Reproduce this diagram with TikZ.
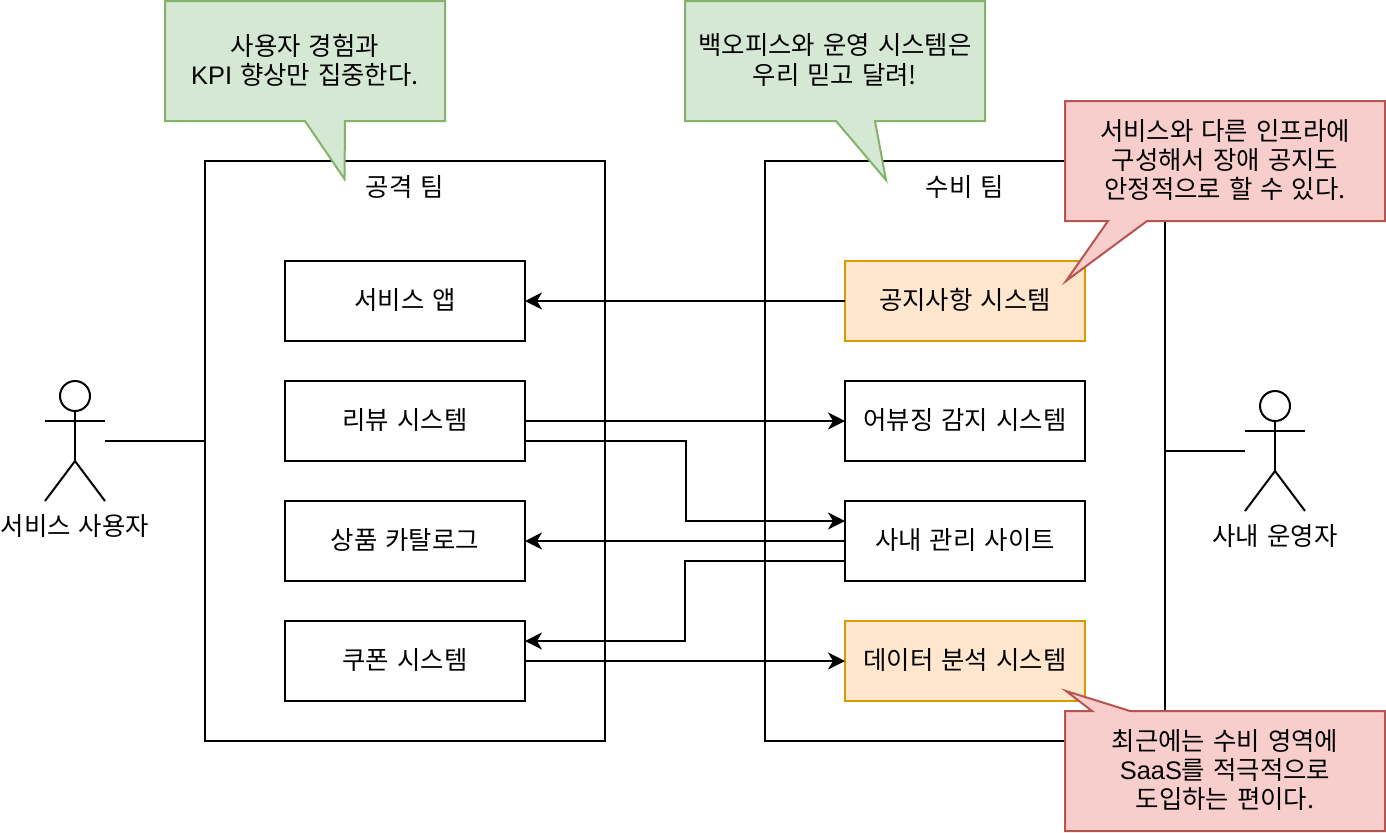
\documentclass[tikz,border=0pt]{standalone}
\usepackage{fontspec}
\setmainfont[WordSpace=1.4]{Noto Sans CJK KR}
\newfontfamily\latinfont{Liberation Sans}
\usepackage{xcolor}
\usepackage{tikz}
\usetikzlibrary{arrows.meta, positioning}

\definecolor{greenfill}{HTML}{D5E8D4}
\definecolor{greenline}{HTML}{82B366}
\definecolor{redfill}{HTML}{F8CECC}
\definecolor{redline}{HTML}{B85450}
\definecolor{orangefill}{HTML}{FFE6CC}
\definecolor{orangeline}{HTML}{D79B00}

\begin{document}
\begin{tikzpicture}[
	x=0.5pt, y=-0.5pt,
	line width=1pt,
	every node/.style={font=\fontsize{12.7}{14.6}\selectfont, align=center},
	team/.style={rectangle, draw, outer sep=0pt, minimum width=200pt, minimum height=290pt},
	block/.style={rectangle, draw, fill=white, outer sep=0pt, text height=10pt, text depth=2pt, minimum width=120pt, minimum height=40pt},
	hot/.style={block, draw=orangeline, fill=orangefill},
	actor/.style={rectangle, outer sep=0pt, inner sep=0pt, minimum width=30pt, minimum height=60pt},
	greennote/.style={draw=greenline, fill=greenfill},
	rednote/.style={draw=redline, fill=redfill},
	line/.style={-{Stealth[length=8.5pt, width=8.5pt, inset=2.5pt]}},
	stickman/.pic={
		\draw (0,-45) circle (15);
		\draw (0,-30) -- (0,20);
		\draw (-30,-20) -- (30,-20);
		\draw (-30,60) -- (0,20) -- (30,60);
	}
	]
	
	\useasboundingbox (0,0) rectangle (1386,832);
	
	% teams
	\node[team] (attack) at (405,451) {};
	\node[team] (defense) at (965,451) {};
	\node (attacklabel) at ([yshift=-13pt]attack.north) {공격 팀};
	\node (defenselabel) at ([yshift=-13pt]defense.north) {수비 팀};
	
	% systems
	\node[block] (app) at (405,301) {서비스 앱};
	\node[block, below=20pt of app] (review) {리뷰 시스템};
	\node[block, below=20pt of review] (catalog) {상품 카탈로그};
	\node[block, below=20pt of catalog] (coupon) {쿠폰 시스템};
	
	\node[hot, right=160pt of app] (notice) {공지사항 시스템};
	\node[block, below=20pt of notice] (abuse) {어뷰징 감지 시스템};
	\node[block, below=20pt of abuse] (admin) {사내 관리 사이트};
	\node[hot, below=20pt of admin] (analysis) {데이터 분석 시스템};
	
	% actors
	\node[actor] (user) at (75,441) {};
	\pic at (user) {stickman};
	\node[below=3pt of user] (userlabel) {서비스 사용자};
	\node[actor] (operator) at (1275,451) {};
	\pic at (operator) {stickman};
	\node[below=3pt of operator] (operatorlabel) {사내 운영자};
	
	\draw (user.east) -- ([yshift=5pt]attack.west);
	\draw (operator.west) -- (defense.east);
	
	\draw[line] (notice) -- (app);
	\draw[line] (review) -- (abuse);
	\draw[line] ([yshift=-10pt]review.east) -- ++(161,0) |- ([yshift=10pt]admin.west);
	\draw[line] (admin) -- (catalog);
	\draw[line] ([yshift=-10pt]admin.west) -- ++(-160,0) |- ([yshift=10pt]coupon.east);
	\draw[line] (coupon) -- (analysis);
	
	% callouts
	\draw[greennote] (165,1) -- (445,1) -- (445,121) -- (345,121) -- (344.5,179) -- (305,121) -- (165,121) -- cycle;
	\node (attacknote) at (305,60) {사용자 경험과\\{\latinfont KPI} 향상만 집중한다.};
	
	\draw[greennote] (685,1) -- (985,1) -- (985,121) -- (875,121) -- (886,180) -- (836,121) -- (685,121) -- cycle;
	\node (defensenote) at (835,60) {백오피스와 운영 시스템은\\우리 믿고 달려!};
	
	\draw[rednote] (1065,101) -- (1385,101) -- (1385,221) -- (1147,221) -- (1066,281) -- (1108,221) -- (1065,221) -- cycle;
	\node (noticenote) at (1225,160) {서비스와 다른 인프라에\\구성해서 장애 공지도\\안정적으로 할 수 있다.};
	
	\draw[rednote] (1065,711) -- (1092,711) -- (1066,691) -- (1130,711) -- (1385,711) -- (1385,831) -- (1065,831) -- cycle;
	\node (saasnote) at (1225,770) {최근에는 수비 영역에\\{\latinfont SaaS}를 적극적으로\\도입하는 편이다.};
\end{tikzpicture}
\end{document}
